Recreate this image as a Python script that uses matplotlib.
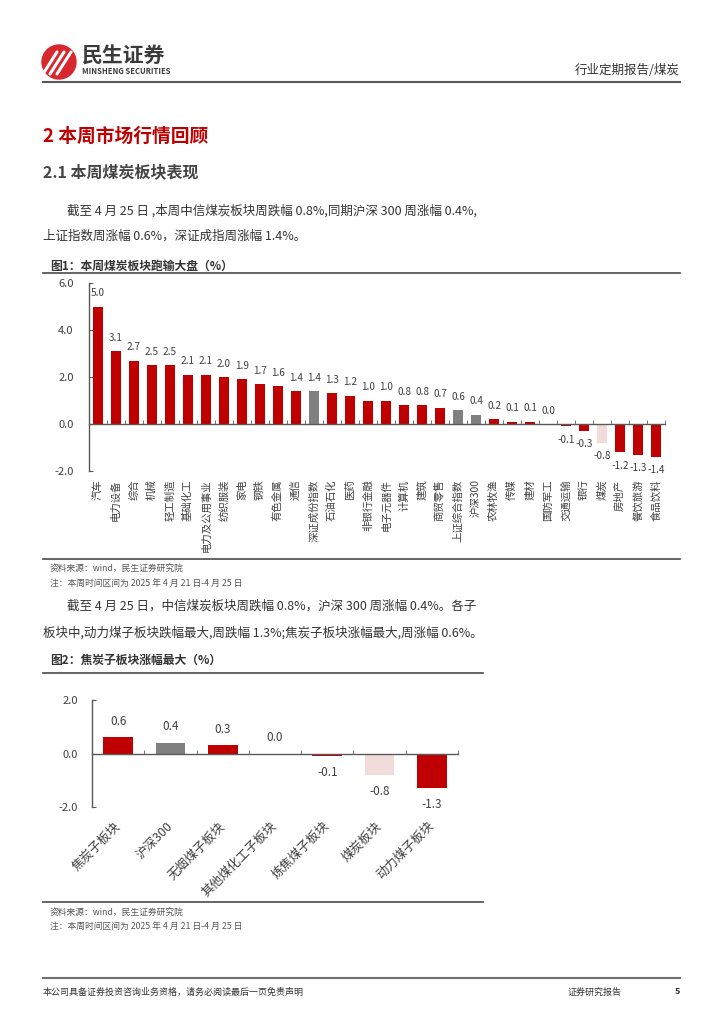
import numpy as np
import matplotlib
matplotlib.use('Agg')
import matplotlib.pyplot as plt
import matplotlib.transforms as mtransforms
from matplotlib.lines import Line2D
from matplotlib.patches import Ellipse

plt.rcParams['font.family'] = ['Noto Sans CJK SC', 'DejaVu Sans']

# Figure 1: sector weekly change (%)
sectors = ['汽车', '电力设备', '综合', '机械', '轻工制造', '基础化工', '电力及公用事业', '纺织服装',
           '家电', '钢铁', '有色金属', '通信', '深证成份指数', '石油石化', '医药', '非银行金融',
           '电子元器件', '计算机', '建筑', '商贸零售', '上证综合指数', '沪深300', '农林牧渔', '传媒',
           '建材', '国防军工', '交通运输', '银行', '煤炭', '房地产', '餐饮旅游', '食品饮料']
sector_chg = [5.0, 3.1, 2.7, 2.5, 2.5, 2.1, 2.1, 2.0, 1.9, 1.7, 1.6, 1.4, 1.4, 1.3, 1.2, 1.0,
              1.0, 0.8, 0.8, 0.7, 0.6, 0.4, 0.2, 0.1, 0.1, 0.0, -0.1, -0.3, -0.8, -1.2, -1.3, -1.4]

# Figure 2: coal sub-sector weekly change (%)
subsectors = ['焦炭子板块', '沪深300', '无烟煤子板块', '其他煤化工子板块', '炼焦煤子板块', '煤炭板块', '动力煤子板块']
subsector_chg = [0.6, 0.4, 0.3, 0.0, -0.1, -0.8, -1.3]

index_names = ['深证成份指数', '上证综合指数', '沪深300']
coal_name = ['煤炭', '煤炭板块']

RED = '#C00000'
GREY = '#808080'
PINK = '#F2DCDB'
TXT = '#404040'
LINE = '#595959'

W, H = 724, 1024
fig = plt.figure(figsize=(W / 100, H / 100), dpi=100)


def fpos(x, y):
    return x / W, 1 - y / H


def rule(x0, x1, y, lw=1.3, color=LINE):
    fig.add_artist(Line2D([x0 / W, x1 / W], [1 - y / H] * 2, color=color, lw=lw))


def put(x, y, s, **kw):
    kw.setdefault('va', 'center')
    kw.setdefault('color', TXT)
    fig.text(*fpos(x, y), s, **kw)


def bar_colors(names):
    out = []
    for n in names:
        if n in index_names:
            out.append(GREY)
        elif n in coal_name:
            out.append(PINK)
        else:
            out.append(RED)
    return out


# header
fig.add_artist(Ellipse(fpos(59, 62), 34 / W, 34 / H, color='#D7282F'))
for dx in (-7, 0, 7):
    fig.add_artist(Line2D([(50 + dx) / W, (64 + dx) / W], [1 - 74 / H, 1 - 52 / H],
                          color='white', lw=2.2, solid_capstyle='round'))
put(82, 56, '民生证券', fontsize=15, fontweight='bold', color='#3A3A3A')
put(82, 71, 'MINSHENG SECURITIES', fontsize=5.5, fontweight='bold', color='#3A3A3A')
put(680, 71, '行业定期报告/煤炭', fontsize=9, ha='right', color='#333333')
rule(43, 680, 82, lw=1.5)

# section titles and paragraph
put(43, 136, '2 本周市场行情回顾', fontsize=13.5, fontweight='bold', color=RED)
put(43, 172, '2.1 本周煤炭板块表现', fontsize=11.5, fontweight='bold', color='#444444')
put(67, 211, '截至 4 月 25 日 ,本周中信煤炭板块周跌幅 0.8%,同期沪深 300 周涨幅 0.4%,',
    fontsize=9, color='#333333')
put(43, 236, '上证指数周涨幅 0.6%，深证成指周涨幅 1.4%。', fontsize=9, color='#333333')

# figure 1
put(50, 266, '图1：本周煤炭板块跑输大盘（%）', fontsize=8.5, fontweight='bold', color='#333333')
rule(43, 680, 273)


def style_axes(ax, n, ymin, ymax, step, pad):
    ax.set_xlim(-0.5, n - 0.5)
    ax.set_ylim(ymin, ymax)
    ax.set_yticks(np.arange(ymin, ymax + 0.01, step))
    ax.yaxis.set_major_formatter(matplotlib.ticker.FormatStrFormatter('%.1f'))
    ax.spines['top'].set_visible(False)
    ax.spines['right'].set_visible(False)
    ax.spines['bottom'].set_position(('data', 0))
    for s in ('left', 'bottom'):
        ax.spines[s].set_color(LINE)
        ax.spines[s].set_linewidth(1.0)
    ax.set_xticks(np.arange(n), [''] * n)
    ax.set_xticks(np.arange(0.5, n), minor=True)
    ax.tick_params(axis='x', which='major', length=0)
    ax.tick_params(axis='x', which='minor', direction='in', length=3, color=LINE)
    ax.tick_params(axis='y', direction='in', length=3, color=LINE, pad=pad, labelcolor=TXT)
    ax.patch.set_alpha(0)


ax1 = fig.add_axes([89 / W, 1 - 471 / H, 576 / W, 188 / H])
x1 = np.arange(len(sectors))
ax1.bar(x1, sector_chg, width=0.55, color=bar_colors(sectors), zorder=2)
style_axes(ax1, len(sectors), -2, 6, 2, 11)
ax1.tick_params(axis='y', labelsize=8)
for i, v in enumerate(sector_chg):
    ax1.annotate(f'{v:.1f}', (i, v), xytext=(0, 6 if v >= 0 else -6), textcoords='offset points',
                 ha='center', va='bottom' if v >= 0 else 'top', fontsize=7.2, color=TXT)
tr1 = mtransforms.blended_transform_factory(ax1.transData, ax1.transAxes)
for i, name in enumerate(sectors):
    ax1.text(i, -0.045, name, transform=tr1, rotation=90, ha='center', va='top',
             fontsize=7.5, color=TXT)

rule(43, 680, 559)
put(50, 568, '资料来源：wind，民生证券研究院', fontsize=6.3, color='#555555')
put(50, 584, '注：本周时间区间为 2025 年 4 月 21 日-4 月 25 日', fontsize=6.3, color='#555555')

put(67, 606, '截至 4 月 25 日，中信煤炭板块周跌幅 0.8%，沪深 300 周涨幅 0.4%。各子',
    fontsize=9, color='#333333')
put(43, 633, '板块中,动力煤子板块跌幅最大,周跌幅 1.3%;焦炭子板块涨幅最大,周涨幅 0.6%。',
    fontsize=9, color='#333333')

# figure 2
put(50, 660, '图2：焦炭子板块涨幅最大（%）', fontsize=8.5, fontweight='bold', color='#333333')
rule(43, 483, 673)

ax2 = fig.add_axes([92 / W, 1 - 807 / H, 366 / W, 107 / H])
x2 = np.arange(len(subsectors))
ax2.bar(x2, subsector_chg, width=0.57, color=bar_colors(subsectors), zorder=2)
style_axes(ax2, len(subsectors), -2, 2, 2, 10)
ax2.tick_params(axis='y', labelsize=8)
for i, v in enumerate(subsector_chg):
    ax2.annotate(f'{v:.1f}', (i, v), xytext=(0, 7 if v >= 0 else -7), textcoords='offset points',
                 ha='center', va='bottom' if v >= 0 else 'top', fontsize=8.5, color=TXT)
tr2 = mtransforms.blended_transform_factory(ax2.transData, ax2.transAxes)
for i, name in enumerate(subsectors):
    ax2.text(i, -0.16, name, transform=tr2, rotation=45, rotation_mode='anchor',
             ha='right', va='center', fontsize=9, color=TXT)

rule(43, 483, 902)
put(50, 912, '资料来源：wind，民生证券研究院', fontsize=6.3, color='#555555')
put(50, 927, '注：本周时间区间为 2025 年 4 月 21 日-4 月 25 日', fontsize=6.3, color='#555555')

# footer
rule(43, 680, 978, lw=1.5, color='#707070')
put(43, 992, '本公司具备证券投资咨询业务资格，请务必阅读最后一页免责声明', fontsize=6.5, color='#333333')
put(568, 992, '证券研究报告', fontsize=6.5, color='#333333')
put(680, 992, '5', fontsize=6.5, fontweight='bold', ha='right', color='#333333')

fig.savefig('out.png', dpi=100)
